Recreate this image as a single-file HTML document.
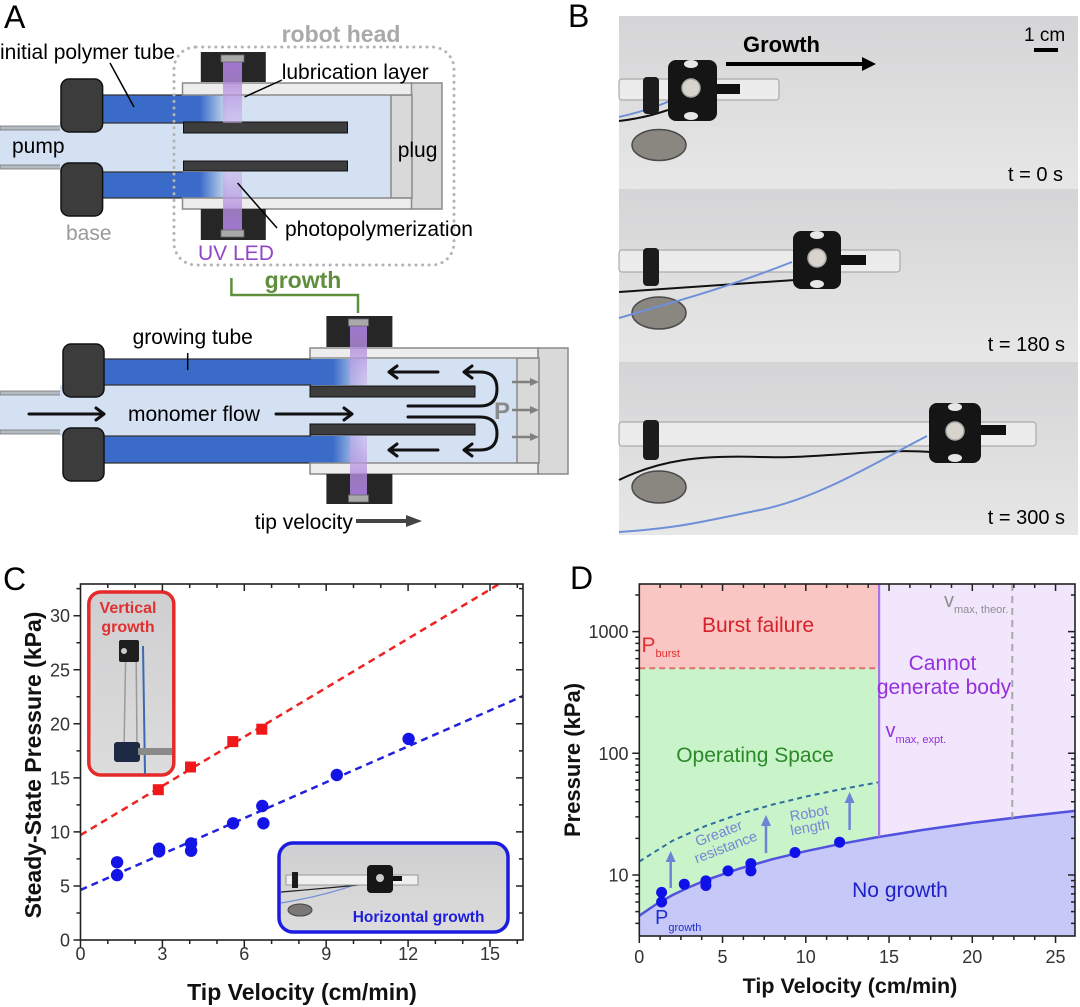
<!DOCTYPE html>
<html><head><meta charset="utf-8"><style>
html,body{margin:0;padding:0;background:#fff;}
svg{display:block;font-family:"Liberation Sans",Arial,sans-serif;}
</style></head><body>
<svg width="1080" height="1007" viewBox="0 0 1080 1007" xmlns="http://www.w3.org/2000/svg">
<defs>
<linearGradient id="bf1" x1="100" x2="228" y1="0" y2="0" gradientUnits="userSpaceOnUse">
<stop offset="0" stop-color="#3a6bc8"/><stop offset="0.78" stop-color="#3a6bc8"/><stop offset="1" stop-color="#d3e1f3"/></linearGradient>
<linearGradient id="bf2" x1="104" x2="364" y1="0" y2="0" gradientUnits="userSpaceOnUse">
<stop offset="0" stop-color="#3a6bc8"/><stop offset="0.88" stop-color="#3a6bc8"/><stop offset="1" stop-color="#d3e1f3"/></linearGradient>
<linearGradient id="beamD" x1="0" x2="0" y1="0" y2="1"><stop offset="0" stop-color="#a77ad8" stop-opacity="0.95"/><stop offset="1" stop-color="#c9b0ea" stop-opacity="0.55"/></linearGradient>
<linearGradient id="beamU" x1="0" x2="0" y1="1" y2="0"><stop offset="0" stop-color="#a77ad8" stop-opacity="0.95"/><stop offset="1" stop-color="#c9b0ea" stop-opacity="0.55"/></linearGradient>
<linearGradient id="photo" x1="0" x2="0" y1="0" y2="1"><stop offset="0" stop-color="#d5d5d7"/><stop offset="1" stop-color="#e7e7e7"/></linearGradient>
<linearGradient id="inset" x1="0" x2="0" y1="0" y2="1"><stop offset="0" stop-color="#cfcfd1"/><stop offset="1" stop-color="#dcdcdc"/></linearGradient>
</defs>

<!-- ================= PANEL A ================= -->
<text x="4" y="28" font-size="32" fill="#000">A</text>

<!-- top diagram -->
<rect x="0" y="127" width="64" height="41" fill="#d3e1f3"/>
<rect x="0" y="126" width="64" height="4" fill="#b4bac2" stroke="#777" stroke-width="0.8"/>
<rect x="0" y="165" width="64" height="4" fill="#b4bac2" stroke="#777" stroke-width="0.8"/>
<rect x="60" y="122" width="332" height="51" fill="#d3e1f3"/>
<rect x="182" y="95" width="210" height="103" fill="#d3e1f3"/>
<rect x="100" y="95" width="128" height="28" fill="url(#bf1)"/>
<rect x="100" y="172" width="128" height="26" fill="url(#bf1)"/>
<line x1="100" y1="95" x2="183" y2="95" stroke="#333" stroke-width="1.2"/>
<line x1="100" y1="123" x2="183" y2="123" stroke="#333" stroke-width="1.2"/>
<line x1="100" y1="172" x2="183" y2="172" stroke="#333" stroke-width="1.2"/>
<line x1="100" y1="198" x2="183" y2="198" stroke="#333" stroke-width="1.2"/>
<rect x="411" y="83" width="31" height="126" fill="#d9d9d9" stroke="#8a8a8a" stroke-width="1.5"/>
<rect x="391" y="95" width="21" height="103" fill="#d9d9d9" stroke="#8a8a8a" stroke-width="1.5"/>
<rect x="182.5" y="83" width="229" height="12" fill="#ededed" stroke="#8a8a8a" stroke-width="1.5"/>
<rect x="182.5" y="198" width="229" height="11" fill="#ededed" stroke="#8a8a8a" stroke-width="1.5"/>
<rect x="183.5" y="122" width="164" height="11" fill="#3d3d3d" stroke="#111" stroke-width="1"/>
<rect x="183.5" y="161" width="164" height="10" fill="#3d3d3d" stroke="#111" stroke-width="1"/>
<rect x="61" y="79" width="41.6" height="53" rx="8" fill="#3c3c3c" stroke="#111" stroke-width="1.5"/>
<rect x="61" y="163" width="41.6" height="53" rx="8" fill="#3c3c3c" stroke="#111" stroke-width="1.5"/>
<rect x="200.8" y="52" width="65" height="30" fill="#262626"/>
<rect x="200.8" y="209" width="65" height="31" fill="#262626"/>
<rect x="223" y="62" width="19" height="61" fill="url(#beamD)"/>
<rect x="223" y="172" width="19" height="58" fill="url(#beamU)"/>
<rect x="221" y="55" width="23" height="7" fill="#a9a9a9" stroke="#666" stroke-width="0.8"/>
<rect x="221" y="230" width="23" height="7" fill="#a9a9a9" stroke="#666" stroke-width="0.8"/>
<rect x="174" y="47" width="280" height="218" rx="22" fill="none" stroke="#b4b4b4" stroke-width="3" stroke-dasharray="0.1 6.5" stroke-linecap="round"/>

<text x="341" y="42" font-size="23" font-weight="bold" fill="#a9a9a9" text-anchor="middle">robot head</text>
<text x="0" y="59" font-size="21" fill="#000">initial polymer tube</text>
<line x1="110" y1="63" x2="134" y2="107" stroke="#000" stroke-width="1.5"/>
<text x="281.7" y="79" font-size="21" fill="#000">lubrication layer</text>
<line x1="244.5" y1="97" x2="282" y2="80" stroke="#000" stroke-width="1.5"/>
<text x="12" y="153" font-size="21" fill="#000">pump</text>
<text x="397.7" y="157" font-size="21" fill="#000">plug</text>
<text x="66" y="240" font-size="21" fill="#9a9a9a">base</text>
<text x="285" y="236" font-size="21" fill="#000">photopolymerization</text>
<line x1="237.6" y1="183" x2="277" y2="228" stroke="#000" stroke-width="1.5"/>
<text x="198" y="260" font-size="21" fill="#9146c8">UV LED</text>

<!-- growth bracket -->
<path d="M231.4 278 V295 H358 V313" fill="none" stroke="#5f8f3c" stroke-width="2.5"/>
<text x="303" y="288" font-size="23" font-weight="bold" fill="#5f8f3c" text-anchor="middle">growth</text>

<!-- bottom diagram -->
<rect x="0" y="392" width="66" height="41" fill="#d3e1f3"/>
<rect x="0" y="391" width="66" height="4" fill="#b4bac2" stroke="#777" stroke-width="0.8"/>
<rect x="0" y="430" width="66" height="4" fill="#b4bac2" stroke="#777" stroke-width="0.8"/>
<rect x="60" y="385" width="458" height="51" fill="#d3e1f3"/>
<rect x="310" y="359" width="208" height="104" fill="#d3e1f3"/>
<rect x="104" y="359" width="260" height="26" fill="url(#bf2)"/>
<rect x="104" y="436" width="260" height="27" fill="url(#bf2)"/>
<line x1="104" y1="359" x2="311" y2="359" stroke="#333" stroke-width="1.2"/>
<line x1="104" y1="385" x2="311" y2="385" stroke="#333" stroke-width="1.2"/>
<line x1="104" y1="436" x2="311" y2="436" stroke="#333" stroke-width="1.2"/>
<line x1="104" y1="463" x2="311" y2="463" stroke="#333" stroke-width="1.2"/>
<rect x="538" y="348" width="30" height="126" fill="#d9d9d9" stroke="#8a8a8a" stroke-width="1.5"/>
<rect x="517" y="358" width="22" height="105" fill="#d9d9d9" stroke="#8a8a8a" stroke-width="1.5"/>
<rect x="310" y="348" width="228" height="10" fill="#ededed" stroke="#8a8a8a" stroke-width="1.5"/>
<rect x="310" y="463" width="228" height="11" fill="#ededed" stroke="#8a8a8a" stroke-width="1.5"/>
<rect x="310" y="386" width="165" height="11" fill="#3d3d3d" stroke="#111" stroke-width="1"/>
<rect x="310" y="424" width="165" height="11" fill="#3d3d3d" stroke="#111" stroke-width="1"/>
<rect x="63" y="344" width="41" height="53" rx="8" fill="#3c3c3c" stroke="#111" stroke-width="1.5"/>
<rect x="63" y="428" width="41" height="53" rx="8" fill="#3c3c3c" stroke="#111" stroke-width="1.5"/>
<rect x="326.4" y="316" width="66" height="31" fill="#262626"/>
<rect x="326.4" y="474" width="66" height="30" fill="#262626"/>
<rect x="350" y="326" width="17" height="59" fill="url(#beamD)"/>
<rect x="350" y="436" width="17" height="59" fill="url(#beamU)"/>
<rect x="348.5" y="319" width="20" height="7" fill="#a9a9a9" stroke="#666" stroke-width="0.8"/>
<rect x="348.5" y="495" width="20" height="7" fill="#a9a9a9" stroke="#666" stroke-width="0.8"/>

<text x="132.6" y="344" font-size="21" fill="#000">growing tube</text>
<line x1="187.7" y1="353" x2="187.7" y2="370" stroke="#000" stroke-width="1.5"/>
<text x="128" y="421" font-size="21" fill="#000">monomer flow</text>
<g fill="none" stroke="#111" stroke-width="3" stroke-linecap="round" stroke-linejoin="round">
<path d="M29 414 H104 M96 408 L104 414 L96 420"/>
<path d="M276 414 H352 M344 408 L352 414 L344 420"/>
<path d="M438 372 H389 M397 366 L389 372 L397 378"/>
<path d="M438 450 H389 M397 444 L389 450 L397 456"/>
<path d="M408 406 H480 Q497 406 497 389 Q497 372 480 372 H464 M472 366 L464 372 L472 378"/>
<path d="M408 417 H480 Q497 417 497 433.5 Q497 450 480 450 H464 M472 444 L464 450 L472 456"/>
</g>
<text x="494" y="419" font-size="24" font-weight="bold" fill="#8a8a8a">P</text>
<g stroke="#808080" stroke-width="2.5" fill="#808080">
<line x1="512" y1="382" x2="531" y2="382"/><path d="M530 378 L539 382 L530 386Z" stroke="none"/>
<line x1="512" y1="410" x2="531" y2="410"/><path d="M530 406 L539 410 L530 414Z" stroke="none"/>
<line x1="512" y1="437" x2="531" y2="437"/><path d="M530 433 L539 437 L530 441Z" stroke="none"/>
</g>
<text x="254.8" y="529" font-size="21" fill="#000">tip velocity</text>
<line x1="356" y1="521" x2="408" y2="521" stroke="#444" stroke-width="4"/>
<path d="M406 515 L422 521 L406 527Z" fill="#444"/>

<!-- ================= PANEL B ================= -->
<text x="568" y="27" font-size="32" fill="#000">B</text>
<rect x="619" y="16" width="459" height="173" fill="url(#photo)"/>
<rect x="619" y="189" width="459" height="173" fill="url(#photo)"/>
<rect x="619" y="362" width="459" height="173" fill="url(#photo)"/>

<!-- band 1 -->
<path d="M619 117 Q650 110 672 100" fill="none" stroke="#6f8fd8" stroke-width="2"/>
<path d="M619 121 Q645 118 668 110" fill="none" stroke="#111" stroke-width="2"/>
<rect x="619" y="79" width="160" height="21" rx="3" fill="#f0f0f0" fill-opacity="0.75" stroke="#aaa" stroke-width="1.2"/>
<rect x="643" y="77" width="16" height="37" rx="4" fill="#1c1c1c"/>
<rect x="717" y="84" width="23" height="10" fill="#111"/>
<rect x="668" y="60" width="49" height="61" rx="8" fill="#151515"/>
<ellipse cx="691" cy="64" rx="7" ry="4" fill="#e6e6e6"/>
<circle cx="691" cy="88" r="9" fill="#d8d4cc" stroke="#aaa" stroke-width="1.5"/>
<ellipse cx="691" cy="116" rx="7" ry="4" fill="#e6e6e6"/>
<ellipse cx="659" cy="145" rx="27" ry="15.5" fill="#8a8680" stroke="#4a4a4a" stroke-width="1.5"/>
<text x="743" y="52" font-size="22" font-weight="bold" fill="#000">Growth</text>
<line x1="726" y1="64" x2="864" y2="64" stroke="#000" stroke-width="4"/>
<path d="M862 57 L876 64 L862 71Z" fill="#000"/>
<text x="1024" y="41" font-size="19" fill="#000">1 cm</text>
<rect x="1034" y="48" width="24" height="4" fill="#000"/>
<text x="1063" y="181" font-size="20" fill="#000" text-anchor="end">t = 0 s</text>

<!-- band 2 -->
<path d="M619 292 C700 286 760 282 795 280" fill="none" stroke="#111" stroke-width="2"/>
<rect x="619" y="250" width="281" height="22" rx="3" fill="#f0f0f0" fill-opacity="0.75" stroke="#aaa" stroke-width="1.2"/>
<rect x="643" y="248" width="16" height="38" rx="4" fill="#1c1c1c"/>
<rect x="841" y="255" width="25" height="10" fill="#111"/>
<ellipse cx="659" cy="313" rx="27" ry="16" fill="#8a8680" stroke="#4a4a4a" stroke-width="1.5"/>
<path d="M619 318 C680 300 720 290 792 262" fill="none" stroke="#6f8fd8" stroke-width="2"/>
<rect x="793" y="231" width="48" height="58" rx="8" fill="#151515"/>
<ellipse cx="817" cy="235" rx="7" ry="4" fill="#e6e6e6"/>
<circle cx="817" cy="258" r="9" fill="#d8d4cc" stroke="#aaa" stroke-width="1.5"/>
<ellipse cx="817" cy="284" rx="7" ry="4" fill="#e6e6e6"/>
<text x="1065" y="351" font-size="20" fill="#000" text-anchor="end">t = 180 s</text>

<!-- band 3 -->
<path d="M619 480 C660 460 700 455 760 457 S880 448 930 452" fill="none" stroke="#111" stroke-width="2"/>
<rect x="619" y="422" width="417" height="24" rx="3" fill="#f0f0f0" fill-opacity="0.75" stroke="#aaa" stroke-width="1.2"/>
<rect x="643" y="420" width="16" height="40" rx="4" fill="#1c1c1c"/>
<rect x="981" y="425" width="25" height="10" fill="#111"/>
<ellipse cx="659" cy="487" rx="27" ry="16" fill="#8a8680" stroke="#4a4a4a" stroke-width="1.5"/>
<path d="M619 532 C680 528 700 522 760 510 S880 460 927 436" fill="none" stroke="#6f8fd8" stroke-width="2"/>
<rect x="929" y="403" width="52" height="60" rx="8" fill="#151515"/>
<ellipse cx="955" cy="407" rx="7" ry="4" fill="#e6e6e6"/>
<circle cx="955" cy="431" r="9" fill="#d8d4cc" stroke="#aaa" stroke-width="1.5"/>
<ellipse cx="955" cy="458" rx="7" ry="4" fill="#e6e6e6"/>
<text x="1065" y="524" font-size="20" fill="#000" text-anchor="end">t = 300 s</text>

<!-- ================= PANEL C ================= -->
<text x="3" y="590" font-size="32" fill="#000">C</text>

<!-- insets -->
<rect x="88.8" y="592" width="85" height="183" rx="12" fill="url(#inset)" stroke="#e52a2a" stroke-width="3.5"/>
<line x1="126" y1="640" x2="124" y2="748" stroke="#9a9a9a" stroke-width="1.5"/>
<line x1="136" y1="640" x2="137" y2="748" stroke="#9a9a9a" stroke-width="1.5"/>
<path d="M143 646 L145 774" stroke="#3a6ab0" stroke-width="2" fill="none"/>
<rect x="119" y="640" width="20" height="22" rx="2" fill="#1e1e1e"/>
<circle cx="124" cy="651" r="3" fill="#ccc"/>
<rect x="114" y="742" width="26" height="20" rx="3" fill="#1e2a44"/>
<rect x="138" y="748" width="34" height="7" fill="#8a8a8a"/>
<text x="128" y="613" font-size="16" font-weight="bold" fill="#e03030" text-anchor="middle">Vertical</text>
<text x="128" y="632" font-size="16" font-weight="bold" fill="#e03030" text-anchor="middle">growth</text>

<rect x="279" y="843" width="229" height="89" rx="14" fill="url(#inset)" stroke="#1c1ce0" stroke-width="3.5"/>
<path d="M281 903 Q330 895 368 880" stroke="#6f8fd8" stroke-width="1.2" fill="none"/>
<path d="M281 892 Q330 888 368 884" stroke="#222" stroke-width="1.2" fill="none"/>
<rect x="286" y="875" width="132" height="10" fill="#efefef" stroke="#999" stroke-width="1"/>
<rect x="292" y="872" width="6" height="16" fill="#1c1c1c"/>
<rect x="393" y="876" width="9" height="5" fill="#111"/>
<rect x="367" y="865" width="26" height="28" rx="4" fill="#161616"/>
<circle cx="380" cy="878" r="4" fill="#ccc"/>
<ellipse cx="300" cy="910" rx="12" ry="6" fill="#7a7874" stroke="#444"/>
<text x="352.7" y="922" font-size="15.5" font-weight="bold" fill="#1e1edc">Horizontal growth</text>

<!-- lines -->
<line x1="80.5" y1="835.1" x2="498.5" y2="584.4" stroke="#ee2222" stroke-width="2.5" stroke-dasharray="7 5"/>
<line x1="80.5" y1="889.95" x2="522.8" y2="696.1" stroke="#2222dd" stroke-width="2.5" stroke-dasharray="7 5"/>

<!-- data -->
<g fill="#f01818">
<rect x="152.8" y="784.2" width="11" height="11"/>
<rect x="185" y="761.5" width="11" height="11"/>
<rect x="227.3" y="736.1" width="11" height="11"/>
<rect x="256.3" y="723.7" width="11" height="11"/>
</g>
<g fill="#1414e6">
<circle cx="117.1" cy="862.3" r="6.2"/>
<circle cx="117.1" cy="875.1" r="6.2"/>
<circle cx="159.1" cy="848.7" r="6.2"/>
<circle cx="159.1" cy="851.4" r="6.2"/>
<circle cx="191.1" cy="843.4" r="6.2"/>
<circle cx="191.1" cy="850.7" r="6.2"/>
<circle cx="233.1" cy="823.3" r="6.2"/>
<circle cx="262.3" cy="806" r="6.2"/>
<circle cx="263.4" cy="823.3" r="6.2"/>
<circle cx="336.8" cy="775" r="6.2"/>
<circle cx="408.6" cy="738.9" r="6.2"/>
</g>

<!-- axes C -->
<rect x="80.5" y="584" width="442.5" height="356" fill="none" stroke="#222" stroke-width="1.6"/>
<path stroke="#222" stroke-width="1.5" fill="none" d="
M80.5 940v7 M162.4 940v7 M244.3 940v7 M326.2 940v7 M408.1 940v7 M490 940v7
M107.8 940v4 M135.1 940v4 M189.7 940v4 M217 940v4 M271.6 940v4 M298.9 940v4 M353.5 940v4 M380.8 940v4 M435.4 940v4 M462.7 940v4 M517.3 940v4
M162.4 584v7 M244.3 584v7 M326.2 584v7 M408.1 584v7 M490 584v7
M107.8 584v4 M135.1 584v4 M189.7 584v4 M217 584v4 M271.6 584v4 M298.9 584v4 M353.5 584v4 M380.8 584v4 M435.4 584v4 M462.7 584v4 M517.3 584v4
M80.5 940h-7 M80.5 885.95h-7 M80.5 831.9h-7 M80.5 777.85h-7 M80.5 723.8h-7 M80.5 669.75h-7 M80.5 615.7h-7
M80.5 912.98h-4 M80.5 858.93h-4 M80.5 804.88h-4 M80.5 750.83h-4 M80.5 696.78h-4 M80.5 642.73h-4 M80.5 588.68h-4
M523 885.95h-7 M523 831.9h-7 M523 777.85h-7 M523 723.8h-7 M523 669.75h-7 M523 615.7h-7
M523 912.98h-4 M523 858.93h-4 M523 804.88h-4 M523 750.83h-4 M523 696.78h-4 M523 642.73h-4 M523 588.68h-4"/>
<g font-size="18" fill="#333" text-anchor="middle">
<text x="80.5" y="960">0</text><text x="162.4" y="960">3</text><text x="244.3" y="960">6</text>
<text x="326.2" y="960">9</text><text x="408.1" y="960">12</text><text x="490" y="960">15</text>
</g>
<g font-size="18" fill="#333" text-anchor="end">
<text x="70" y="946.5">0</text><text x="70" y="892.5">5</text><text x="70" y="838.4">10</text>
<text x="70" y="784.4">15</text><text x="70" y="730.3">20</text><text x="70" y="676.3">25</text><text x="70" y="622.2">30</text>
</g>
<text x="41" y="765" font-size="23" font-weight="bold" fill="#111" text-anchor="middle" transform="rotate(-90 41 765)">Steady-State Pressure (kPa)</text>
<text x="302" y="1000" font-size="23" font-weight="bold" fill="#111" text-anchor="middle">Tip Velocity (cm/min)</text>

<!-- ================= PANEL D ================= -->
<text x="570" y="589" font-size="32" fill="#000">D</text>
<rect x="879.1" y="584" width="195.9" height="352" fill="#f1e6fb"/>
<rect x="639.3" y="584" width="239.8" height="84.2" fill="#f9c6c4"/>
<rect x="639.3" y="668.2" width="239.8" height="267.8" fill="#c9f3c9"/>
<path fill="#c6c8f7" d="M639.3 915.7 L655.95 904.4 L672.6 895 L689.25 887.1 L705.9 880.2 L739.2 868.7 L772.5 859.2 L805.8 851.2 L839.1 844.2 L879.1 836.9 L922.35 830 L972.3 822.9 L1022.25 816.8 L1075 810.9 L1075 936 L639.3 936 Z"/>
<path fill="none" stroke="#5252de" stroke-width="2.5" d="M639.3 915.7 L655.95 904.4 L672.6 895 L689.25 887.1 L705.9 880.2 L739.2 868.7 L772.5 859.2 L805.8 851.2 L839.1 844.2 L879.1 836.9 L922.35 830 L972.3 822.9 L1022.25 816.8 L1075 810.9"/>
<path fill="none" stroke="#2e6e9e" stroke-width="2" stroke-dasharray="5 4" d="M639.3 861.5 L672.6 840.7 L705.9 825.8 L739.2 814.1 L772.5 804.6 L805.8 796.6 L839.1 789.6 L879.1 782.2"/>
<line x1="639.3" y1="668.2" x2="879.1" y2="668.2" stroke="#e07070" stroke-width="2" stroke-dasharray="6 4"/>
<line x1="879.1" y1="584" x2="879.1" y2="836.9" stroke="#a574e6" stroke-width="2.2"/>
<line x1="1012.3" y1="584" x2="1012.3" y2="818" stroke="#a8a8a8" stroke-width="2" stroke-dasharray="7 5"/>

<!-- arrows -->
<g stroke="#6c84d6" stroke-width="2.5" fill="#6c84d6">
<line x1="670.7" y1="888" x2="670.7" y2="860"/><path d="M665.7 862 L670.7 851 L675.7 862Z" stroke="none"/>
<line x1="766" y1="853" x2="766" y2="824"/><path d="M761 826 L766 815 L771 826Z" stroke="none"/>
<line x1="849.6" y1="830" x2="849.6" y2="801"/><path d="M844.6 803 L849.6 792 L854.6 803Z" stroke="none"/>
</g>

<!-- D data -->
<g fill="#1010e8">
<circle cx="661.6" cy="892.4" r="5.5"/>
<circle cx="661.6" cy="902" r="5.5"/>
<circle cx="684.3" cy="884.2" r="5.5"/>
<circle cx="705.9" cy="880.9" r="5.5"/>
<circle cx="705.9" cy="885.5" r="5.5"/>
<circle cx="728" cy="870.9" r="5.5"/>
<circle cx="750.9" cy="863.6" r="5.5"/>
<circle cx="750.9" cy="870.9" r="5.5"/>
<circle cx="795" cy="852.5" r="5.5"/>
<circle cx="839.6" cy="842.2" r="5.5"/>
</g>

<!-- D texts -->
<text x="758" y="632" font-size="21" fill="#d8202a" text-anchor="middle">Burst failure</text>
<text x="641.5" y="652" font-size="21" fill="#e03030">P<tspan font-size="11" dy="5">burst</tspan></text>
<text x="942.5" y="670" font-size="21" fill="#9430dc" text-anchor="middle">Cannot</text>
<text x="944" y="694" font-size="21" fill="#9430dc" text-anchor="middle">generate body</text>
<text x="944" y="607" font-size="20" fill="#8e8e8e">v<tspan font-size="11" dy="6">max, theor.</tspan></text>
<text x="885.5" y="737" font-size="20" fill="#9430dc">v<tspan font-size="11" dy="6">max, expt.</tspan></text>
<text x="755" y="762" font-size="21" fill="#2a8a2a" text-anchor="middle">Operating Space</text>
<text x="718.8" y="838" font-size="14.5" fill="#7486d4" text-anchor="middle" transform="rotate(-21 718.8 833)">Greater</text>
<text x="725.7" y="852" font-size="14.5" fill="#7486d4" text-anchor="middle" transform="rotate(-21 725.7 847)">resistance</text>
<text x="809" y="818" font-size="14.5" fill="#7486d4" text-anchor="middle" transform="rotate(-10 809 813)">Robot</text>
<text x="810" y="832" font-size="14.5" fill="#7486d4" text-anchor="middle" transform="rotate(-10 810 827)">length</text>
<text x="900" y="897" font-size="21" fill="#2020c8" text-anchor="middle">No growth</text>
<text x="655" y="924" font-size="20" fill="#2030d0">P<tspan font-size="11" dy="7">growth</tspan></text>

<!-- axes D -->
<rect x="639.3" y="584" width="435.7" height="352" fill="none" stroke="#222" stroke-width="1.6"/>
<path stroke="#222" stroke-width="1.5" fill="none" d="
M639.3 936v7 M722.55 936v7 M805.8 936v7 M889.05 936v7 M972.3 936v7 M1055.55 936v7
M660.1 936v4 M680.9 936v4 M701.7 936v4 M743.4 936v4 M764.2 936v4 M785 936v4 M826.6 936v4 M847.4 936v4 M868.2 936v4 M909.9 936v4 M930.7 936v4 M951.5 936v4 M993.1 936v4 M1013.9 936v4 M1034.7 936v4
M722.55 584v7 M805.8 584v7 M889.05 584v7 M972.3 584v7 M1055.55 584v7
M660.1 584v4 M680.9 584v4 M701.7 584v4 M743.4 584v4 M764.2 584v4 M785 584v4 M826.6 584v4 M847.4 584v4 M868.2 584v4 M909.9 584v4 M930.7 584v4 M951.5 584v4 M993.1 584v4 M1013.9 584v4 M1034.7 584v4
M639.3 875h-7 M639.3 753.3h-7 M639.3 631.6h-7
M639.3 923.4h-4 M639.3 911.6h-4 M639.3 902h-4 M639.3 893.9h-4 M639.3 886.8h-4 M639.3 880.6h-4
M639.3 838.4h-4 M639.3 816.9h-4 M639.3 801.7h-4 M639.3 789.9h-4 M639.3 780.3h-4 M639.3 772.2h-4 M639.3 765.1h-4 M639.3 758.9h-4
M639.3 716.7h-4 M639.3 695.2h-4 M639.3 680h-4 M639.3 668.2h-4 M639.3 658.6h-4 M639.3 650.5h-4 M639.3 643.4h-4 M639.3 637.2h-4 M639.3 595h-4
M1075 875h-7 M1075 753.3h-7 M1075 631.6h-7
M1075 923.4h-4 M1075 911.6h-4 M1075 902h-4 M1075 893.9h-4 M1075 886.8h-4 M1075 880.6h-4
M1075 838.4h-4 M1075 816.9h-4 M1075 801.7h-4 M1075 789.9h-4 M1075 780.3h-4 M1075 772.2h-4 M1075 765.1h-4 M1075 758.9h-4
M1075 716.7h-4 M1075 695.2h-4 M1075 680h-4 M1075 668.2h-4 M1075 658.6h-4 M1075 650.5h-4 M1075 643.4h-4 M1075 637.2h-4 M1075 595h-4"/>
<g font-size="18" fill="#333" text-anchor="middle">
<text x="639.3" y="963">0</text><text x="722.55" y="963">5</text><text x="805.8" y="963">10</text>
<text x="889.05" y="963">15</text><text x="972.3" y="963">20</text><text x="1055.55" y="963">25</text>
</g>
<g font-size="18" fill="#333" text-anchor="end">
<text x="628.5" y="881.5">10</text><text x="628.5" y="759.8">100</text><text x="628.5" y="638.1">1000</text>
</g>
<text x="580" y="760" font-size="22" font-weight="bold" fill="#111" text-anchor="middle" transform="rotate(-90 580 760)">Pressure (kPa)</text>
<text x="850" y="993" font-size="21.5" font-weight="bold" fill="#111" text-anchor="middle">Tip Velocity (cm/min)</text>
</svg>
</body></html>
